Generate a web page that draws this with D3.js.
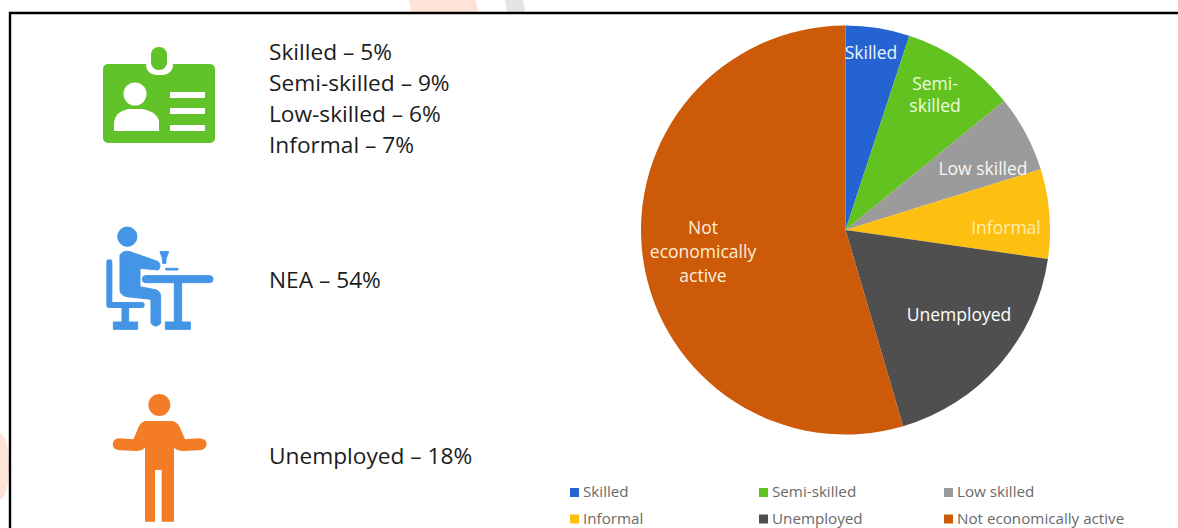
<!DOCTYPE html>
<html>
<head>
<meta charset="utf-8">
<script src="https://cdn.jsdelivr.net/npm/d3@7"></script>
<style>
  html, body { margin: 0; padding: 0; background: #fff; overflow: hidden; }
  svg { display: block; font-family: "Open Sans", sans-serif; }
</style>
</head>
<body>
<svg id="chart" width="1178" height="528"></svg>
<script>
// Share of the population by labour-market status, in percent
const categories = ["Skilled", "Semi-skilled", "Low skilled", "Informal", "Unemployed", "Not economically active"];
const shares = [5, 9, 6, 7, 18, 54];
const sliceColours = ["#2563d3", "#62c320", "#9b9b9b", "#fdbf10", "#4f4f4f", "#cd5a08"];

// Wrapped text written on each slice
const sliceLabels = [["Skilled"], ["Semi-", "skilled"], ["Low skilled"], ["Informal"], ["Unemployed"], ["Not", "economically", "active"]];

// Summary lists beside the icons
const workingList = ["Skilled – 5%", "Semi-skilled – 9%", "Low-skilled – 6%", "Informal – 7%"];
const inactiveList = ["NEA – 54%"];
const unemployedList = ["Unemployed – 18%"];

// Layout
const centre = { x: 845.5, y: 230 };
const radius = 204.5;
const labelOffsets = [[25.5, -177], [89.5, -135], [137.5, -61], [160.5, -2], [113.5, 85], [-142.5, 22]];
const labelColours = ["#eef3fb", "#eefbe0", "#f6f6f6", "#ffeeb0", "#ffffff", "#ffefdc"];
const legendColumns = [570, 759, 944];
const legendRows = [492, 518.5];

const svg = d3.select("#chart");

// Pale shapes of the backdrop that show outside the frame
const backdrop = svg.append("g");
backdrop.append("path").attr("d", "M409,0 L476,0 L478,12 L411,12 Z").attr("fill", "#ffe3d8");
backdrop.append("path").attr("d", "M505,0 L523,0 L525,12 L507,12 Z").attr("fill", "#e4e4e4");
backdrop.append("path").attr("d", "M0,433 Q9,438 9,466 Q9,495 0,500 Z").attr("fill", "#ffe3d8");

// Frame along the top and left edges
svg.append("path")
  .attr("d", "M10,528 V13 H1178")
  .attr("fill", "none")
  .attr("stroke", "#000")
  .attr("stroke-width", 2.4);

// Badge icon
const badge = svg.append("g").attr("fill", "#62c22a");
badge.append("rect").attr("x", 103).attr("y", 64).attr("width", 112).attr("height", 79).attr("rx", 5);
badge.append("rect").attr("x", 146).attr("y", 55).attr("width", 27).attr("height", 20).attr("rx", 10).attr("fill", "#fff");
badge.append("rect").attr("x", 151).attr("y", 47).attr("width", 16).attr("height", 23).attr("rx", 7.5);
const badgeInk = badge.append("g").attr("fill", "#fff");
badgeInk.append("circle").attr("cx", 135).attr("cy", 94).attr("r", 11.5);
badgeInk.append("path").attr("d", "M114,131 V122 Q115,112 128,109 H142 Q158,112 159,122 V131 Z");
[92, 108, 125].forEach(y => badgeInk.append("rect").attr("x", 170).attr("y", y).attr("width", 35).attr("height", 6));

// Seated person icon, drawn on a 3x grid
const seated = svg.append("g").attr("transform", "translate(95,220) scale(0.3333)")
  .attr("fill", "#4495e5").attr("stroke", "#4495e5").attr("stroke-width", 3).attr("stroke-linejoin", "round");
seated.append("circle").attr("cx", 97).attr("cy", 50).attr("r", 29);
seated.append("path").attr("d", "M75,105 Q85,90 105,95 L190,125 Q200,137 190,150 L135,145 L135,200 L185,210 Q197,215 197,230 L197,310 Q182,327 168,310 L168,238 L95,230 Q75,225 75,210 Z");
seated.append("path")
  .attr("d", "M43,127 V255 H140")
  .attr("fill", "none").attr("stroke-width", 18)
  .attr("stroke-linecap", "round");
seated.append("rect").attr("x", 81).attr("y", 255).attr("width", 20).attr("height", 55);
seated.append("rect").attr("x", 55).attr("y", 306).attr("width", 73).attr("height", 22);
seated.append("path").attr("d", "M195,95 H221 L213,117 V130 H203 V117 Z");
seated.append("rect").attr("x", 212).attr("y", 145).attr("width", 37).attr("height", 5);
seated.append("rect").attr("x", 142).attr("y", 167).attr("width", 212).attr("height", 21).attr("rx", 10);
seated.append("rect").attr("x", 238).attr("y", 180).attr("width", 22).attr("height", 130);
seated.append("rect").attr("x", 211).attr("y", 306).attr("width", 75).attr("height", 22);

// Standing person icon, drawn on a 3x grid
const standing = svg.append("g").attr("transform", "translate(100,385) scale(0.3333)").attr("fill", "#f47c26");
standing.append("circle").attr("cx", 178).attr("cy", 60).attr("r", 33);
standing.append("path").attr("d", "M135,108 L218,108 Q237,112 245,140 L255,163 L295,160 Q320,160 320,178 Q318,196 295,196 L250,198 Q232,198 222,188 L222,410 L185,410 L185,255 L165,255 L165,410 L135,410 L135,188 Q125,198 110,198 L60,196 Q38,194 38,177 Q40,160 60,160 L100,163 L110,140 Q118,112 135,108 Z");

// Summary text blocks
function textBlock(lines, x, firstBaseline, step) {
  svg.append("g").selectAll("text").data(lines).join("text")
    .attr("x", x)
    .attr("y", (d, i) => firstBaseline + i * step)
    .attr("font-size", 22.7)
    .attr("fill", "#1c1c1c")
    .text(d => d);
}
textBlock(workingList, 269, 60, 31);
textBlock(inactiveList, 269, 288, 31);
textBlock(unemployedList, 269, 464, 31);

// Pie, starting at twelve o'clock and running clockwise
const colour = d3.scaleOrdinal().domain(categories).range(sliceColours);
const pie = d3.pie().value(d => d.share).sort(null);
const arc = d3.arc().innerRadius(0).outerRadius(radius);
const slices = pie(categories.map((name, i) => ({ name, share: shares[i], lines: sliceLabels[i] })));

const pieGroup = svg.append("g").attr("transform", `translate(${centre.x},${centre.y})`);
pieGroup.selectAll("path").data(slices).join("path")
  .attr("d", arc)
  .attr("fill", d => colour(d.data.name));

pieGroup.selectAll("text").data(slices).join("text")
  .attr("text-anchor", "middle")
  .attr("font-size", 17.5)
  .attr("fill", (d, i) => labelColours[i])
  .attr("transform", (d, i) => `translate(${labelOffsets[i][0]},${labelOffsets[i][1]})`)
  .each(function (d) {
    const lineCount = d.data.lines.length;
    d3.select(this).selectAll("tspan").data(d.data.lines).join("tspan")
      .attr("x", 0)
      .attr("y", (line, i) => (i - (lineCount - 1) / 2) * (lineCount === 3 ? 24 : 22.5) + 6)
      .text(line => line);
  });

// Legend: three columns, two rows
const legend = svg.append("g").selectAll("g").data(categories).join("g")
  .attr("transform", (d, i) => `translate(${legendColumns[i % 3]},${legendRows[Math.floor(i / 3)]})`);
legend.append("rect")
  .attr("x", 0).attr("y", -4).attr("width", 9).attr("height", 9)
  .attr("fill", d => colour(d));
legend.append("text")
  .attr("x", 13)
  .attr("y", 5)
  .attr("font-size", 15.2)
  .attr("fill", "#6a6a6a")
  .text(d => d);
</script>
</body>
</html>
